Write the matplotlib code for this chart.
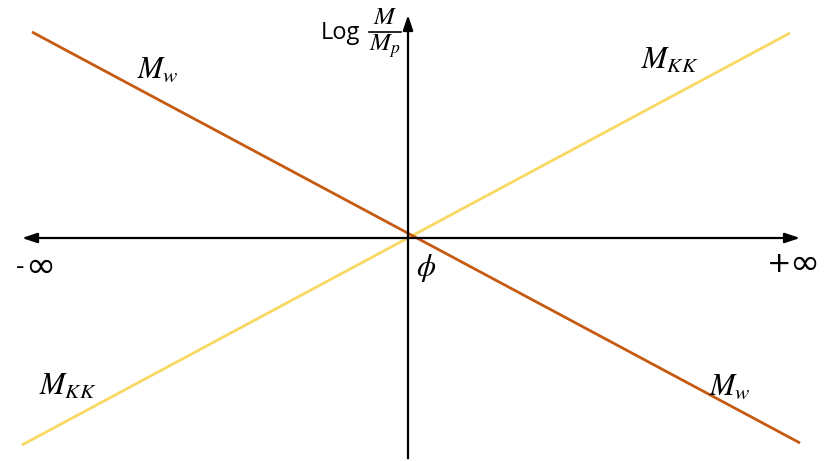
import matplotlib
matplotlib.use("Agg")
import matplotlib.pyplot as plt

plt.rcParams["mathtext.fontset"] = "stix"

# Data coordinates: origin at (0, 0), axes span the plane
x_min, x_max = -386, 392
y_min, y_max = -220, 223

# Two lines through the origin
mw_x = [-376, 392]
mw_y = [206, -205]
mkk_x = [-386, 382]
mkk_y = [-207, 205]

line_labels = [r"$M_w$", r"$M_{KK}$", r"$M_{KK}$", r"$M_w$"]
label_x = [-250, 262, -340, 322]
label_y = [169, 178, -148, -148]

fig = plt.figure(figsize=(8.28, 4.61), dpi=100)
ax = fig.add_axes([0, 0, 1, 1])
ax.set_xlim(-408, 420)
ax.set_ylim(-223, 238)
ax.axis("off")

orange = "#C55A11"
yellow = "#F8D862"

ax.plot(mkk_x, mkk_y, color=yellow, lw=2.0, solid_capstyle="butt", zorder=2)
ax.plot(mw_x, mw_y, color=orange, lw=2.0, solid_capstyle="butt", zorder=3)

arrow = dict(arrowstyle="-|>,head_length=0.9,head_width=0.3", color="black", lw=1.6,
             shrinkA=0, shrinkB=0)
# horizontal axis, arrows at both ends
ax.annotate("", xy=(x_max, 0), xytext=(0, 0), arrowprops=arrow, zorder=4)
ax.annotate("", xy=(x_min, 0), xytext=(0, 0), arrowprops=arrow, zorder=4)
# vertical axis, arrow at the top
ax.plot([0, 0], [y_min, 0], color="black", lw=1.6, zorder=4)
ax.annotate("", xy=(0, y_max), xytext=(0, 0), arrowprops=arrow, zorder=4)

for t, x, y in zip(line_labels, label_x, label_y):
    ax.text(x, y, t, fontsize=22, ha="center", va="center")

# axis end labels
ax.text(-388, -30, "-", fontsize=19, ha="center", va="center", family="Open Sans")
ax.text(-368, -29, "∞", fontsize=26, ha="center", va="center", family="DejaVu Sans")
ax.text(371, -26, "+", fontsize=21, ha="center", va="center", family="DejaVu Sans")
ax.text(396, -26, "∞", fontsize=26, ha="center", va="center", family="DejaVu Sans")
ax.text(18, -30, r"$\phi$", fontsize=22, ha="center", va="center")

# vertical axis title: Log M / M_p, with a stacked fraction
ax.text(-87, 205, "Log", fontsize=17, ha="left", va="center", family="Open Sans")
ax.text(-23, 221, r"$M$", fontsize=18, ha="center", va="center")
ax.plot([-39, -7], [206, 206], color="black", lw=1.2)
ax.text(-23, 192, r"$M_p$", fontsize=18, ha="center", va="center")

fig.savefig("out.png", dpi=100)
